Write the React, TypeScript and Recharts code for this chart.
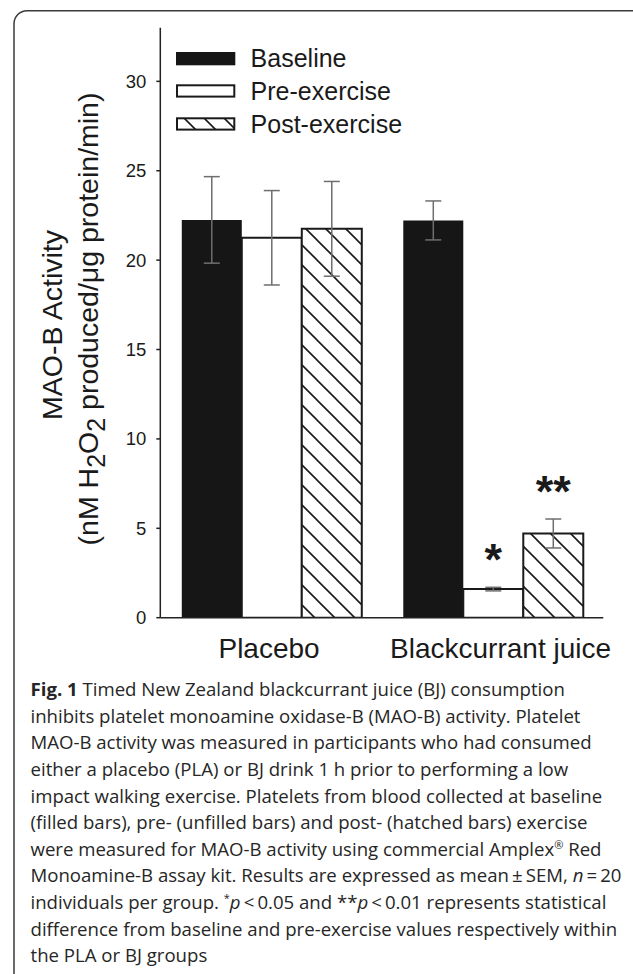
import React from "react";
import { BarChart, Bar, XAxis, YAxis, ErrorBar, Legend, LabelList } from "recharts";

// ---------- data ----------
const categories = ["Placebo", "Blackcurrant juice"];
const seriesNames = ["Baseline", "Pre-exercise", "Post-exercise"];
const baselineValues = [22.25, 22.22];
const preExerciseValues = [21.25, 1.6];
const postExerciseValues = [21.75, 4.71];
const baselineSem = [2.42, 1.09];
const preExerciseSem = [2.64, 0.1];
const postExerciseSem = [2.65, 0.81];
const preSignificance = ["", "*"];
const postSignificance = ["", "**"];
const yTicks = [0, 5, 10, 15, 20, 25, 30];
const yDomain: [number, number] = [0, 33];

const data = categories.map((group, i) => ({
  group,
  baseline: baselineValues[i],
  baselineSem: baselineSem[i],
  pre: preExerciseValues[i],
  preSem: preExerciseSem[i],
  preSig: preSignificance[i],
  post: postExerciseValues[i],
  postSem: postExerciseSem[i],
  postSig: postSignificance[i],
}));

// ---------- styles ----------
const FONT = "'Liberation Sans', Arial, Helvetica, sans-serif";
const INK = "#1a1a1a";
const AXIS = "#222";
const ERR = "#6e6e6e";
const xLabelShift = [-2, 8];
const TS = "\u2009";

const XTick = (props: any) => {
  const { x, y, payload } = props;
  const idx = payload?.index ?? categories.indexOf(payload?.value);
  return (
    <text
      x={x + (xLabelShift[idx] || 0)}
      y={y}
      dy={40.6}
      textAnchor="middle"
      fontFamily={FONT}
      fontSize={28}
      fill={INK}
    >
      {payload.value}
    </text>
  );
};

const YLabel = () => (
  <g fontFamily={FONT} fill={INK}>
    <text
      transform="rotate(-90, 61.7, 325)"
      x={61.7}
      y={325}
      textAnchor="middle"
      fontSize={28.5}
    >
      MAO-B Activity
    </text>
    <text
      transform="rotate(-90, 98.3, 319)"
      x={98.3}
      y={319}
      textAnchor="middle"
      fontSize={28.5}
    >
      (nM H
      <tspan fontSize={25} dy={7}>2</tspan>
      <tspan dy={-7}>O</tspan>
      <tspan fontSize={25} dy={7}>2</tspan>
      <tspan dy={-7}> produced/μg protein/min)</tspan>
    </text>
  </g>
);

const makeSigLabel = (sems: number[], values: number[]) => (props: any) => {
  const { x, y, width, height, value, index } = props;
  if (!value) return null;
  const i = typeof index === "number" ? index : 0;
  const pxPerUnit = Math.abs(height) / values[i];
  const errTop = y - sems[i] * pxPerUnit;
  const centre = errTop - 37.5;
  return (
    <text
      x={x + width / 2}
      y={centre + 25}
      textAnchor="middle"
      fontFamily={FONT}
      fontWeight="bold"
      fontSize={45}
      fill={INK}
    >
      {value}
    </text>
  );
};

const LegendContent = () => {
  const rowTop = [1, 33.3, 66.3];
  return (
    <svg width={280} height={84} style={{ display: "block", overflow: "visible" }}>
      <defs>
        <pattern id="hatchLegend" patternUnits="userSpaceOnUse" width={20} height={20} x={2}>
          <rect width={20} height={20} fill="#fff" />
          <path d="M0,0 L20,20 M-5,15 L5,25 M15,-5 L25,5" stroke={INK} strokeWidth={1.6} />
        </pattern>
      </defs>
      {seriesNames.map((name, i) => (
        <g key={name}>
          {i === 0 ? (
            <rect x={1} y={rowTop[i]} width={59.3} height={13.3} fill="#161616" />
          ) : (
            <rect
              x={2}
              y={rowTop[i] + 1}
              width={57.3}
              height={11.3}
              fill={i === 1 ? "#fff" : "url(#hatchLegend)"}
              stroke={INK}
              strokeWidth={2}
            />
          )}
          <text
            x={75.6}
            y={rowTop[i] + 6.6 + 8.8}
            fontFamily={FONT}
            fontSize={25}
            fill={INK}
          >
            {name}
          </text>
        </g>
      ))}
    </svg>
  );
};

const captionStyle: React.CSSProperties = {
  position: "absolute",
  left: 30.5,
  top: 676.3,
  fontFamily: "'Open Sans', sans-serif",
  fontSize: 18.6,
  lineHeight: "26.6px",
  color: "#262626",
  whiteSpace: "nowrap",
};

export default function App() {
  return (
    <div
      style={{
        position: "absolute",
        left: 0,
        top: 0,
        width: 633,
        height: 974,
        background: "#fff",
        overflow: "hidden",
      }}
    >
      <svg
        width={633}
        height={974}
        style={{ position: "absolute", left: 0, top: 0, pointerEvents: "none" }}
      >
        <rect
          x={14}
          y={10.7}
          width={630}
          height={978}
          rx={13}
          ry={13}
          fill="none"
          stroke="#3a3a3a"
          strokeWidth={1.5}
        />
      </svg>

      <div style={{ position: "absolute", left: 0, top: 0 }}>
        <BarChart
          width={633}
          height={680}
          data={data}
          margin={{ top: 27.7, right: 29.7, bottom: 22.3, left: 100.3 }}
          barGap={0}
          barCategoryGap="9.7%"
        >
          <defs>
            <pattern id="hatch" patternUnits="userSpaceOnUse" width={20} height={20} x={17}>
              <rect width={20} height={20} fill="#fff" />
              <path d="M0,0 L20,20 M-5,15 L5,25 M15,-5 L25,5" stroke={INK} strokeWidth={1.6} />
            </pattern>
          </defs>
          <XAxis
            dataKey="group"
            type="category"
            height={40}
            tickLine={false}
            tickSize={0}
            tickMargin={0}
            axisLine={{ stroke: AXIS, strokeWidth: 1.5 }}
            tick={<XTick />}
            interval={0}
          />
          <XAxis
            xAxisId="top"
            dataKey="group"
            orientation="top"
            height={0}
            tick={false}
            tickLine={false}
            axisLine={{ stroke: AXIS, strokeWidth: 1.5 }}
          />
          <YAxis
            type="number"
            domain={yDomain}
            ticks={yTicks}
            width={60}
            tickSize={4}
            tickMargin={10}
            tickLine={{ stroke: AXIS, strokeWidth: 1.5 }}
            axisLine={{ stroke: AXIS, strokeWidth: 1.5 }}
            tick={{ fontFamily: FONT, fontSize: 18.5, fill: INK }}
            allowDataOverflow
            label={<YLabel />}
          />
          <YAxis
            yAxisId="right"
            orientation="right"
            type="number"
            domain={yDomain}
            width={0}
            tick={false}
            tickLine={false}
            axisLine={{ stroke: AXIS, strokeWidth: 1.5 }}
          />
          <Legend
            layout="vertical"
            align="center"
            verticalAlign="middle"
            content={<LegendContent />}
            wrapperStyle={{ position: "absolute", left: 174.7, top: 50.7, width: 280, height: 84 }}
          />
          <Bar
            dataKey="baseline"
            name={seriesNames[0]}
            fill="#161616"
            isAnimationActive={false}
          >
            <ErrorBar dataKey="baselineSem" width={8} stroke={ERR} strokeWidth={1.5} />
          </Bar>
          <Bar
            dataKey="pre"
            name={seriesNames[1]}
            fill="#fff"
            stroke={INK}
            strokeWidth={2}
            isAnimationActive={false}
          >
            <ErrorBar dataKey="preSem" width={8} stroke={ERR} strokeWidth={1.5} />
            <LabelList dataKey="preSig" content={makeSigLabel(preExerciseSem, preExerciseValues)} />
          </Bar>
          <Bar
            dataKey="post"
            name={seriesNames[2]}
            fill="url(#hatch)"
            stroke={INK}
            strokeWidth={2}
            isAnimationActive={false}
          >
            <ErrorBar dataKey="postSem" width={8} stroke={ERR} strokeWidth={1.5} />
            <LabelList dataKey="postSig" content={makeSigLabel(postExerciseSem, postExerciseValues)} />
          </Bar>
        </BarChart>
      </div>

      <div style={captionStyle}>
        <b style={{ fontWeight: 700 }}>Fig. 1</b> Timed New Zealand blackcurrant juice (BJ) consumption
        <br />
        inhibits platelet monoamine oxidase-B (MAO-B) activity. Platelet
        <br />
        MAO-B activity was measured in participants who had consumed
        <br />
        either a placebo (PLA) or BJ drink 1 h prior to performing a low
        <br />
        impact walking exercise. Platelets from blood collected at baseline
        <br />
        (filled bars), pre- (unfilled bars) and post- (hatched bars) exercise
        <br />
        were measured for MAO-B activity using commercial Amplex
        <sup style={{ fontSize: 11, lineHeight: 0 }}>®</sup> Red
        <br />
        {`Monoamine-B assay kit. Results are expressed as mean${TS}±${TS}SEM, `}
        <i>n</i>
        {`${TS}=${TS}20`}
        <br />
        individuals per group. <sup style={{ fontSize: 11, lineHeight: 0 }}>*</sup>
        <i>p</i>
        {`${TS}<${TS}0.05 and **`}
        <i>p</i>
        {`${TS}<${TS}0.01 represents statistical`}
        <br />
        difference from baseline and pre-exercise values respectively within
        <br />
        the PLA or BJ groups
      </div>
    </div>
  );
}
